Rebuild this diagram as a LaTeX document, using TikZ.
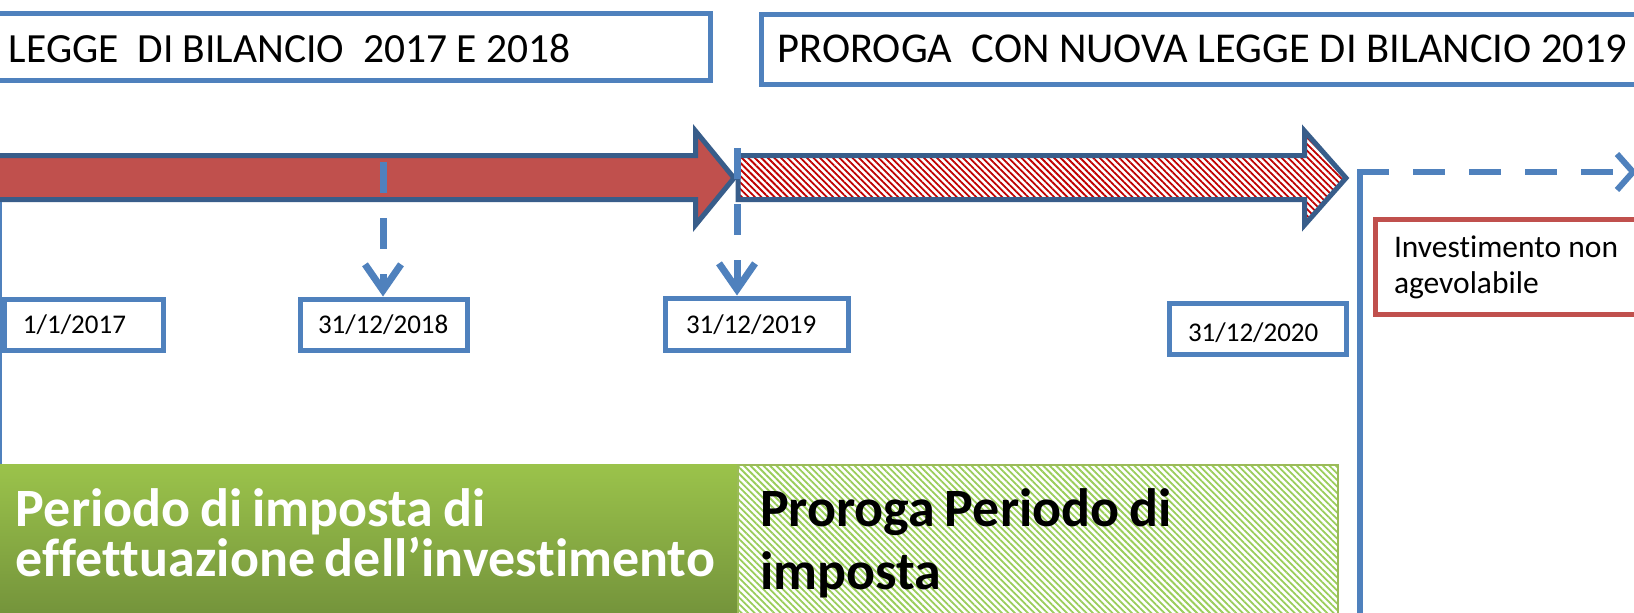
\documentclass[tikz,border=0pt]{standalone}
\usepackage{fontspec}
\setmainfont{Carlito}[Ligatures=NoCommon]
\newfontfamily\tightfont{Carlito}[Ligatures=NoCommon, WordSpace=0.8]
\usepackage{tikz}
\usepackage{xcolor}
\usetikzlibrary{arrows.meta,patterns.meta}
\definecolor{accblue}{HTML}{4F81BD}
\definecolor{darkblue}{HTML}{385D8A}
\definecolor{accred}{HTML}{C0504D}
\definecolor{hatchred}{HTML}{C00000}
\definecolor{greentop}{HTML}{9BC34B}
\definecolor{greenbot}{HTML}{71903A}
\definecolor{hatchgreen}{HTML}{9ACD5A}
\definecolor{accgreen}{HTML}{9BBB59}
\newcommand{\tightlines}{\lineskiplimit=-60pt\relax}
\tikzstyle{titlebox} = [rectangle, draw=accblue, line width=5pt, fill=white, anchor=base west, outer sep=0pt, inner ysep=0pt, align=flush left, font=\fontsize{41.5}{50}\selectfont]
\tikzstyle{datebox} = [rectangle, draw=accblue, line width=5pt, fill=white, anchor=base west, outer sep=0pt, inner ysep=0pt, align=flush left, font=\fontsize{27}{32}\selectfont]
\tikzstyle{notebox} = [rectangle, draw=accred, line width=5pt, fill=white, anchor=base west, outer sep=0pt, inner ysep=0pt, align=flush left, font=\fontsize{31.5}{36}\selectfont]
\tikzstyle{periodbox} = [rectangle, anchor=base west, outer sep=0pt, inner ysep=0pt, align=flush left, font=\tightfont\bfseries\fontsize{54}{50}\selectfont]
\tikzstyle{bigarrow} = [draw=darkblue, line width=5pt, line join=miter]
\tikzstyle{datetick} = [->, draw=accblue, line width=7pt, dash pattern=on 31pt off 25pt, shorten >=3pt]
\tikzstyle{cutline} = [draw=accblue, line width=6pt]

\begin{document}
\begin{tikzpicture}[x=1pt,y=-1pt,>={Straight Barb[length=26pt,width=36pt]}]
  \useasboundingbox (0,0) rectangle (1634,613);
  \fill[white] (0,0) rectangle (1634,613);
  \begin{scope}
  \clip (0,0) rectangle (1634,613);

  \node[titlebox, inner xsep=21pt, text width=680pt, text height=48.5pt, text depth=18.5pt] (legge) at (-12,62) {LEGGE\ \ DI BILANCIO\ \ 2017 E 2018};
  \node[titlebox, inner xsep=16pt, text width=900pt, text height=47.5pt, text depth=22.5pt, font=\fontsize{42.5}{50}\selectfont] (proroga) at (761.5,62) {PROROGA\ \ CON NUOVA LEGGE DI BILANCIO 2019};

  \draw[bigarrow, fill=accred] (-20,155.5) -- (695.5,155.5) -- (695.5,131) -- (734,178) -- (695.5,225) -- (695.5,199.5) -- (-20,199.5) -- cycle;
  \draw[bigarrow, preaction={fill=white}, pattern={Lines[angle=-45,distance=4.6pt,line width=1.8pt]}, pattern color=hatchred] (738,155.5) -- (1304.5,155.5) -- (1304.5,131) -- (1346,178) -- (1304.5,225) -- (1304.5,199.5) -- (738,199.5) -- cycle;

  \node[datebox, inner xsep=18.5pt, text width=122pt, text height=33.5pt, text depth=17.5pt] (d2017) at (4.5,333) {1/1/2017};
  \node[datebox, inner xsep=17.5pt, text width=132pt, text height=33.5pt, text depth=17.5pt] (d2018) at (300.5,333) {31/12/2018};
  \node[datebox, inner xsep=20.5pt, text width=142pt, text height=34.5pt, text depth=17.5pt] (d2019) at (665.5,333) {31/12/2019};
  \node[datebox, inner xsep=18.5pt, text width=140pt, text height=37.5pt, text depth=13.5pt] (d2020) at (1169.5,341) {31/12/2020};
  \node[notebox, inner xsep=18.5pt, text width=287.5pt, text height=37.5pt, text depth=57.5pt] (nonagev) at (1375.5,257) {Investimento non\\agevolabile};

  \coordinate (t2018) at (383,162);
  \coordinate (t2019) at (737,148);
  \coordinate (stop) at (1360,172);
  \coordinate (fondo) at (1360,620);
  \coordinate (oltre) at (1637,172);
  \coordinate (inizio) at (0,202);

  \draw[datetick] (t2018) -- (t2018 |- d2018.north);
  \draw[datetick] (t2019) -- (t2019 |- d2019.north);
  \draw[cutline] (fondo) -- (stop);
  \draw[cutline, dash pattern=on 32pt off 24pt, -{Straight Barb[length=16pt,width=36pt]}] ([xshift=-3pt]stop) -- (oltre);
  \draw[cutline, line width=3pt] (inizio) -- (inizio |- 0,464);

  \node[periodbox, top color=greentop, bottom color=greenbot, text=white, inner xsep=16pt, text width=705pt, text height=62pt, text depth=100pt] (periodo) at (0,526) {\tightlines Periodo di imposta di\\effettuazione dell’investimento};
  \node[periodbox, draw=accgreen, line width=2pt, preaction={fill=white}, pattern={Lines[angle=-45,distance=4.6pt,line width=1.8pt]}, pattern color=hatchgreen, inner xsep=22pt, text width=556pt, text height=61pt, text depth=100pt, font=\tightfont\bfseries\fontsize{54}{63}\selectfont] (prorogaperiodo) at (738,526) {Proroga Periodo di\\imposta};
  \end{scope}
\end{tikzpicture}
\end{document}
